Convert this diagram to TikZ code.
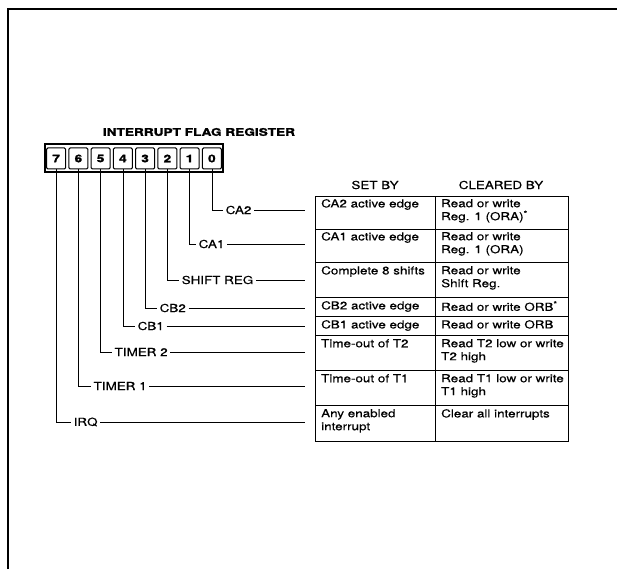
\documentclass[tikz,border=0pt]{standalone}
\usepackage{fontspec}
\setmainfont{TeX Gyre Heros}
\newfontfamily\diafont{TeX Gyre Heros}[FakeStretch=1.22,FakeBold=0.3]
\newfontfamily\titlefont{TeX Gyre Heros}[FakeStretch=1.3,FakeBold=1.5]
\begin{document}
\begin{tikzpicture}[x=1pt,y=-1pt,
  frameline/.style={line width=1.4pt},
  wire/.style={line width=0.8pt},
  bitcell/.style={draw, line width=1pt, rounded corners=1.2pt, minimum width=19pt, minimum height=21pt, inner sep=0pt, font=\titlefont\fontsize{10.5}{11}\selectfont\bfseries},
  lbl/.style={anchor=west, inner sep=2.5pt, font=\diafont\fontsize{11}{12}\selectfont},
  head/.style={font=\diafont\fontsize{11}{12}\selectfont},
  tcell/.style={anchor=north west, align=left, inner sep=0pt, font=\diafont\fontsize{11}{13}\selectfont},
  grid/.style={line width=0.8pt}]
\useasboundingbox (0,0) rectangle (617,569);
% frame
\draw[frameline] (8,569) -- (8,9) -- (617,9);
% title
\node[font=\titlefont\fontsize{10.5}{11}\selectfont\bfseries] (title) at (199,132) {INTERRUPT FLAG REGISTER};
% register
\draw[line width=1.2pt] (45,144) rectangle (223,172);
\foreach \b/\x in {7/56.1,6/78.4,5/100.6,4/122.9,3/145.1,2/167.4,1/189.6,0/211.9}
  \node[bitcell] (b\b) at (\x,158.5) {\b};
% labels
\node[lbl] (l0) at (223,210) {CA2};
\node[lbl] (l1) at (196,244) {CA1};
\node[lbl] (l2) at (179,280) {SHIFT REG};
\node[lbl] (l3) at (157,308) {CB2};
\node[lbl] (l4) at (135,326) {CB1};
\node[lbl] (l5) at (112,352) {TIMER 2};
\node[lbl] (l6) at (91,386) {TIMER 1};
\node[lbl] (l7) at (71,422) {IRQ};
\foreach \b/\y in {0/210,1/244,2/280,3/308,4/326,5/352,6/386,7/422}{
  \coordinate (e\b) at (305,\y);
  \draw[wire] (b\b.south) |- (l\b.west);
  \draw[wire] (l\b.east) -- (e\b);
}
% table
\node[head] (h1) at (375,185) {SET BY};
\node[head] (h2) at (501,185) {CLEARED BY};
\draw[grid] (315,196) rectangle (568,441);
\draw[grid] (435,196) -- (435,441);
\foreach \y in {229,262,297,316,335,370,405}
  \draw[grid] (315,\y) -- (568,\y);
\node[tcell] (s0) at (321,199) {CA2 active edge};
\node[tcell] (c0) at (441,199) {Read or write\\Reg. 1 (ORA)\textsuperscript{*}};
\node[tcell] (s1) at (321,232) {CA1 active edge};
\node[tcell] (c1) at (441,232) {Read or write\\Reg. 1 (ORA)};
\node[tcell] (s2) at (321,266) {Complete 8 shifts};
\node[tcell] (c2) at (441,266) {Read or write\\Shift Reg.};
\node[tcell] (s3) at (321,301) {CB2 active edge};
\node[tcell] (c3) at (441,301) {Read or write ORB\textsuperscript{*}};
\node[tcell] (s4) at (321,320) {CB1 active edge};
\node[tcell] (c4) at (441,320) {Read or write ORB};
\node[tcell] (s5) at (321,339) {Time-out of T2};
\node[tcell] (c5) at (441,339) {Read T2 low or write\\T2 high};
\node[tcell] (s6) at (321,374) {Time-out of T1};
\node[tcell] (c6) at (441,374) {Read T1 low or write\\T1 high};
\node[tcell] (s7) at (321,409) {Any enabled\\interrupt};
\node[tcell] (c7) at (441,409) {Clear all interrupts};
\end{tikzpicture}
\end{document}
